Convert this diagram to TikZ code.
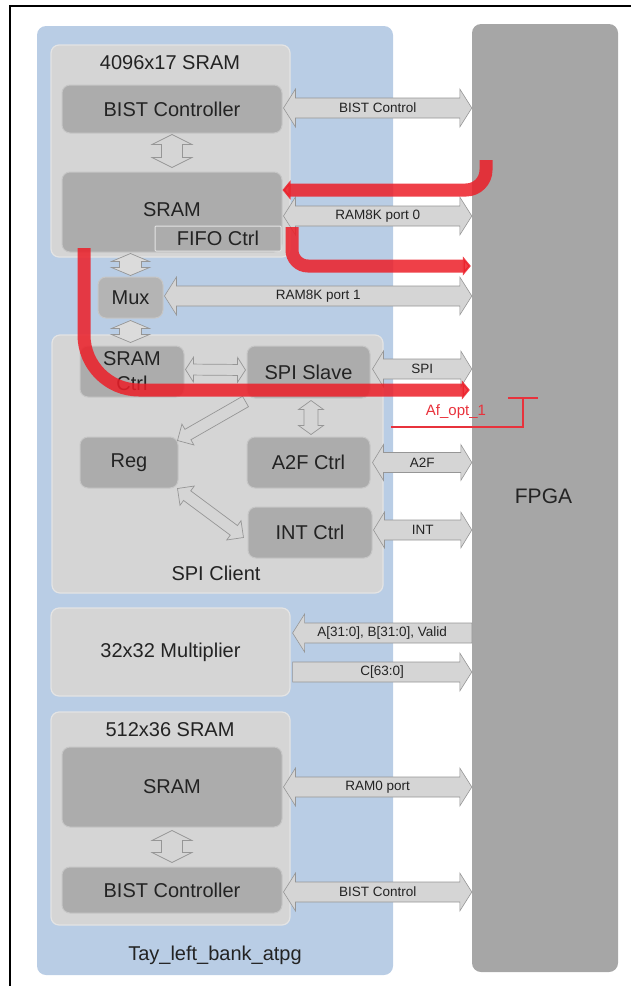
\documentclass[tikz,border=0pt]{standalone}
\usepackage{fontspec}
\setmainfont{Liberation Sans}
\usetikzlibrary{calc,arrows.meta}
\definecolor{bluebg}{RGB}{185,205,229}
\definecolor{lightbox}{RGB}{213,213,213}
\definecolor{lightedge}{RGB}{228,228,228}
\definecolor{darkbox}{RGB}{172,172,172}
\definecolor{darkedge}{RGB}{198,198,198}
\definecolor{fpgagray}{RGB}{166,166,166}
\definecolor{arrfill}{RGB}{213,213,213}
\definecolor{arredge}{RGB}{150,150,150}
\definecolor{redpath}{RGB}{236,30,40}
\definecolor{optred}{RGB}{232,50,60}
\definecolor{txt}{RGB}{35,35,35}
\newcommand{\lblfont}{\fontsize{20}{24}\selectfont}
\newcommand{\smlfont}{\fontsize{13.5}{16}\selectfont}
\newcommand{\optfont}{\fontsize{15}{18}\selectfont}
% double headed arrow outline: #1 style, #2 A, #3 B, #4 head length, #5 body half, #6 head half
\newcommand{\dblarr}[6]{%
 \path[#1] (#2) -- ($(#2)!#4!(#3)!#6!90:(#3)$) -- ($(#2)!#4!(#3)!#5!90:(#3)$)
  -- ($(#3)!#4!(#2)!#5!-90:(#2)$) -- ($(#3)!#4!(#2)!#6!-90:(#2)$) -- (#3)
  -- ($(#3)!#4!(#2)!#6!90:(#2)$) -- ($(#3)!#4!(#2)!#5!90:(#2)$)
  -- ($(#2)!#4!(#3)!#5!-90:(#3)$) -- ($(#2)!#4!(#3)!#6!-90:(#3)$) -- cycle;}
% single headed arrow: tip #2, flat tail #3
\newcommand{\sglarr}[6]{%
 \path[#1] (#2) -- ($(#2)!#4!(#3)!#6!90:(#3)$) -- ($(#2)!#4!(#3)!#5!90:(#3)$)
  -- ($(#3)!#5!-90:(#2)$) -- ($(#3)!#5!90:(#2)$)
  -- ($(#2)!#4!(#3)!#5!-90:(#3)$) -- ($(#2)!#4!(#3)!#6!-90:(#3)$) -- cycle;}
\tikzset{
 panel/.style={rectangle, rounded corners=9pt, fill=bluebg, draw=none, inner sep=0pt},
 fpgabox/.style={rectangle, rounded corners=9pt, fill=fpgagray, draw=none, inner sep=0pt, text=txt, font=\fontsize{21}{25}\selectfont},
 outerbox/.style={rectangle, rounded corners=8pt, fill=lightbox, draw=lightedge, line width=1.2pt, inner sep=0pt},
 innerbox/.style={rectangle, rounded corners=8pt, fill=darkbox, draw=darkedge, line width=1pt, inner sep=0pt, text=txt, font=\lblfont, align=center},
 fifobox/.style={rectangle, rounded corners=1pt, fill=darkbox, draw=lightedge, line width=1pt, inner sep=0pt, text=txt, font=\lblfont},
 title/.style={text=txt, font=\lblfont, inner sep=0pt},
 arrlbl/.style={text=txt, font=\smlfont, inner sep=0pt},
 blockarr/.style={fill=arrfill, draw=arredge, line width=0.6pt},
 thinarr/.style={fill=lightbox, draw=arredge, line width=0.7pt},
 muxarr/.style={fill=arrfill!85!white, draw=arredge, line width=0.7pt},
 redp/.style={draw=redpath, opacity=0.85, line width=13pt, -{Triangle[length=8pt 0,width=19pt 0]}},
 optline/.style={draw=optred, line width=1.2pt},
}
\begin{document}
\begin{tikzpicture}[x=1pt,y=-1pt]
\useasboundingbox (0,0) rectangle (631,986);
% frame
\coordinate (fr1) at (10,986);
\coordinate (fr2) at (10,6);
\coordinate (fr3) at (631,6);
\draw[line width=2pt] (fr1) -- (fr2) -- (fr3);

% main panels
\node[panel, minimum width=356pt, minimum height=949pt] (bank) at (215,500.5) {};
\node[fpgabox, minimum width=146pt, minimum height=948pt] (fpga) at (545,498) {};
\node[text=txt, font=\fontsize{21}{25}\selectfont, inner sep=0pt] (fpgat) at (543.5,496) {FPGA};

% 4096x17 SRAM
\node[outerbox, minimum width=239pt, minimum height=212pt] (memA) at (170.5,151) {};
\node[title] (titleA) at (170,63) {4096x17 SRAM};
\node[innerbox, minimum width=220pt, minimum height=48pt] (bistA) at (172,109) {BIST Controller};
\node[innerbox, minimum width=220pt, minimum height=80pt] (sramA) at (172,212) {};
\node[title] (sramAt) at (172,210) {SRAM};
\node[fifobox, minimum width=126pt, minimum height=25pt] (fifo) at (218,238.5) {FIFO Ctrl};

% Mux
\node[innerbox, minimum width=65pt, minimum height=41pt, fill=darkbox!90!white] (mux) at (130.5,297.5) {Mux};

% SPI Client
\node[outerbox, minimum width=331pt, minimum height=258pt] (spiC) at (217.5,464) {};
\node[title] (spiCt) at (216,573) {SPI Client};
\node[innerbox, minimum width=104pt, minimum height=51pt, font=\fontsize{20}{25}\selectfont] (sramC) at (132,371.5) {SRAM\\Ctrl};
\node[innerbox, minimum width=123pt, minimum height=52pt] (spiS) at (308.5,372) {SPI Slave};
\node[innerbox, minimum width=98pt, minimum height=51pt] (reg) at (129,462.5) {Reg};
\node[innerbox, minimum width=123pt, minimum height=51pt] (a2f) at (308.5,462.5) {A2F Ctrl};
\node[innerbox, minimum width=124pt, minimum height=51pt] (intc) at (310,532.5) {INT Ctrl};

% Multiplier
\node[outerbox, minimum width=239pt, minimum height=88pt, text=txt, font=\lblfont] (mult) at (170.5,652) {32x32 Multiplier};

% 512x36 SRAM
\node[outerbox, minimum width=239pt, minimum height=213pt] (memB) at (170.5,818.5) {};
\node[title] (titleB) at (170,730) {512x36 SRAM};
\node[innerbox, minimum width=220pt, minimum height=80pt] (sramB) at (172,787) {SRAM};
\node[innerbox, minimum width=220pt, minimum height=46pt] (bistB) at (172,890) {BIST Controller};

\node[title] (bankt) at (215,955) {Tay\_left\_bank\_atpg};

% ---- internal thin arrows
\coordinate (i1a) at ([yshift=-1pt]bistA.south);
\coordinate (i1b) at ([yshift=4pt]sramA.north);
\dblarr{thinarr}{i1a}{i1b}{10pt}{10.5pt}{20pt}
\coordinate (i2a) at ([yshift=-3pt]sramB.south);
\coordinate (i2b) at ([yshift=4pt]bistB.north);
\dblarr{thinarr}{i2a}{i2b}{10pt}{10.5pt}{20pt}
\coordinate (m1a) at ([yshift=-1pt]mux.north |- sramA.south);
\coordinate (m1b) at ([yshift=1pt]mux.north);
\dblarr{muxarr}{m1a}{m1b}{8pt}{11pt}{19pt}
\coordinate (m2a) at ([yshift=-2pt]mux.south);
\coordinate (m2b) at ([yshift=3pt]mux.south |- sramC.north);
\dblarr{muxarr}{m2a}{m2b}{8pt}{11pt}{19pt}
\coordinate (h1a) at ([xshift=1pt,yshift=2pt]sramC.east);
\coordinate (h1b) at ([xshift=-1pt,yshift=2pt]spiS.west);
\dblarr{thinarr}{h1a}{h1b}{8pt}{5.5pt}{12.5pt}
\coordinate (v1a) at ([xshift=2.5pt,yshift=-2pt]spiS.south);
\coordinate (v1b) at ([xshift=2.5pt,yshift=2pt]a2f.north);
\dblarr{thinarr}{v1a}{v1b}{9pt}{7pt}{12.5pt}
\coordinate (d1a) at ([xshift=-1pt,yshift=-3pt]spiS.south west);
\coordinate (d1b) at ([xshift=-1pt,yshift=-4pt]reg.north east);
\sglarr{thinarr}{d1b}{d1a}{12pt}{6pt}{12pt}
\coordinate (d2a) at ([xshift=-1pt]reg.south east);
\coordinate (d2b) at ([xshift=-4pt,yshift=-5pt]intc.west);
\dblarr{thinarr}{d2a}{d2b}{12pt}{6pt}{12pt}

% ---- block arrows to FPGA
\coordinate (b1a) at ([xshift=1pt,yshift=1pt]bistA.east);
\coordinate (b1b) at (fpga.west |- b1a);
\dblarr{blockarr}{b1a}{b1b}{12pt}{10pt}{19pt}
\node[arrlbl] (b1l) at ($(b1a)!0.5!(b1b)$) {BIST Control};

\coordinate (b2a) at ([xshift=1pt,yshift=-4pt]sramA.east);
\coordinate (b2b) at (fpga.west |- b2a);
\dblarr{blockarr}{b2a}{b2b}{12pt}{10pt}{19pt}
\node[arrlbl] (b2l) at ($(b2a)!0.5!(b2b)$) {RAM8K port 0};

\coordinate (b3a) at ([xshift=1pt,yshift=1.5pt]mux.east);
\coordinate (b3b) at (fpga.west |- b3a);
\dblarr{blockarr}{b3a}{b3b}{12pt}{10pt}{19pt}
\node[arrlbl] (b3l) at ($(b3a)!0.5!(b3b)$) {RAM8K port 1};

\coordinate (b4a) at ([xshift=2pt,yshift=3pt]spiS.east);
\coordinate (b4b) at (fpga.west |- b4a);
\dblarr{blockarr}{b4a}{b4b}{11pt}{10pt}{18pt}
\node[arrlbl] (b4l) at ($(b4a)!0.5!(b4b)$) {SPI};

\coordinate (b5a) at ([xshift=2pt]a2f.east);
\coordinate (b5b) at (fpga.west |- b5a);
\dblarr{blockarr}{b5a}{b5b}{11pt}{10pt}{18pt}
\node[arrlbl] (b5l) at ($(b5a)!0.5!(b5b)$) {A2F};

\coordinate (b6a) at ([xshift=1pt,yshift=2.5pt]intc.east);
\coordinate (b6b) at (fpga.west |- b6a);
\dblarr{blockarr}{b6a}{b6b}{11pt}{10pt}{18pt}
\node[arrlbl] (b6l) at ($(b6a)!0.5!(b6b)$) {INT};

\coordinate (b7a) at ([xshift=2pt,yshift=19pt]mult.east);
\coordinate (b7b) at (fpga.west |- b7a);
\sglarr{blockarr}{b7a}{b7b}{12pt}{10pt}{19pt}
\node[arrlbl] (b7l) at ($(b7a)!0.5!(b7b)$) {A[31:0], B[31:0], Valid};

\coordinate (b8a) at ([xshift=2pt,yshift=-20pt]mult.east);
\coordinate (b8b) at (fpga.west |- b8a);
\sglarr{blockarr}{b8b}{b8a}{12pt}{10pt}{19pt}
\node[arrlbl] (b8l) at ($(b8a)!0.5!(b8b)$) {C[63:0]};

\coordinate (b9a) at ([xshift=1pt]sramB.east);
\coordinate (b9b) at (fpga.west |- b9a);
\dblarr{blockarr}{b9a}{b9b}{12pt}{10pt}{19pt}
\node[arrlbl] (b9l) at ($(b9a)!0.5!(b9b)$) {RAM0 port};

\coordinate (b10a) at ([xshift=1pt,yshift=-2pt]bistB.east);
\coordinate (b10b) at (fpga.west |- b10a);
\dblarr{blockarr}{b10a}{b10b}{12pt}{10pt}{19pt}
\node[arrlbl] (b10l) at ($(b10a)!0.5!(b10b)$) {BIST Control};

% ---- red paths
\coordinate (r1s) at (486,160);
\coordinate (r1c) at (486,190);
\coordinate (r1e) at (sramA.east |- r1c);
\draw[redp, rounded corners=20pt] (r1s) -- (r1c) -- (r1e);
\coordinate (r2s) at (292,227);
\coordinate (r2c) at (292,266);
\coordinate (r2e) at ([xshift=-1pt]fpga.west |- r2c);
\draw[redp, rounded corners=16pt] (r2s) -- (r2c) -- (r2e);
\coordinate (r3s) at (84,248);
\coordinate (r3c) at (84,390);
\coordinate (r3e) at ([xshift=-2pt]fpga.west |- r3c);
\draw[redp, rounded corners=55pt] (r3s) -- (r3c) -- (r3e);

% ---- Af_opt_1 marker
\coordinate (o1) at (508,398);
\coordinate (o2) at (538,398);
\coordinate (o3) at (523,398);
\coordinate (o4) at (523,427);
\coordinate (o5) at (391,427);
\draw[optline] (o1) -- (o2);
\draw[optline] (o3) -- (o4) -- (o5);
\node[text=optred, font=\optfont, inner sep=0pt] (optl) at (456,412) {Af\_opt\_1};
\end{tikzpicture}
\end{document}
